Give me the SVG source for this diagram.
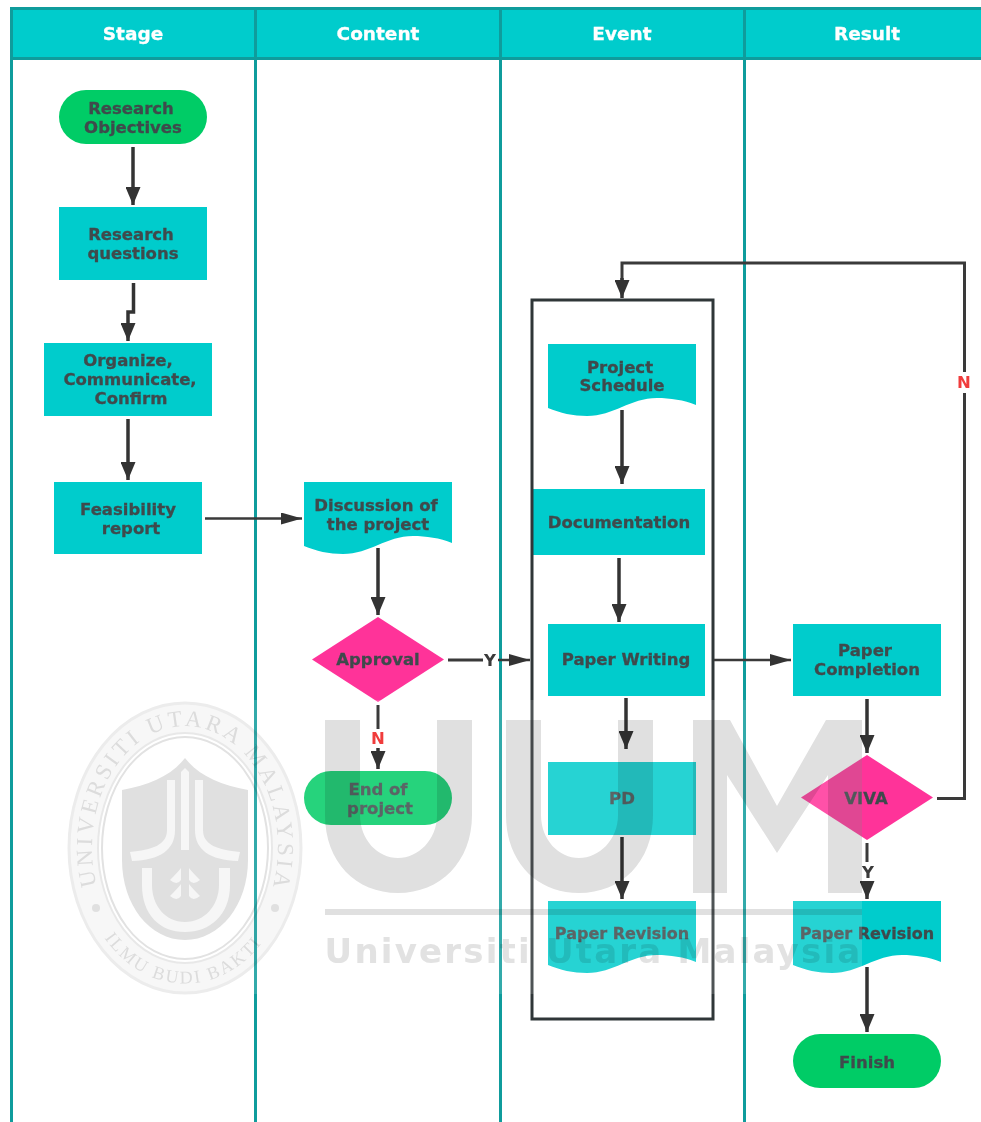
<svg xmlns="http://www.w3.org/2000/svg" width="981" height="1122" viewBox="0 0 981 1122">
<style>
text{font-family:"DejaVu Sans","Liberation Sans",sans-serif;font-weight:700;text-anchor:middle}
.h{fill:#fff;font-size:18.500px;stroke:#fff;stroke-width:.3px}
.t{fill:#3f4a4c;font-size:16.500px;stroke:#3f4a4c;stroke-width:.3px}
.box{fill:#00cccc}
.term{fill:#00cc66}
.dia{fill:#ff3399}
.lane{fill:none;stroke:#0f9c9c;stroke-width:3}
.c{fill:none;stroke:#3a3a3a;stroke-width:3}
.v{fill:none;stroke:#333;stroke-width:3.500px;marker-end:url(#a)}
.hz{fill:none;stroke:#3a3a3a;stroke-width:2.500px;marker-end:url(#b)}
.ln{font-size:16.500px;fill:#3a3a3a}
.lr{font-size:16.500px;fill:#f03c3c}
.wm{fill:#e0e0e0}
.sl{fill:none;stroke:#e2e2e2}
.st{font-family:"Liberation Serif",serif;font-weight:400;fill:#dcdcdc;font-size:23px;text-anchor:start}
#mult{mix-blend-mode:multiply}
</style>
<defs>
<marker id="a" markerUnits="userSpaceOnUse" markerWidth="18" markerHeight="15" refX="18" refY="7.500" orient="auto"><path d="M0 0L18 7.500L0 15Z" fill="#333"/></marker>
<marker id="b" markerUnits="userSpaceOnUse" markerWidth="21" markerHeight="13" refX="21" refY="6" orient="auto"><path d="M0 0L21 6L0 12Z" fill="#333"/></marker>
<path id="sealTop" d="M98 890A93 121 0 1 1 272 890"/>
<path id="sealBot" d="M101 933A108 136 0 0 0 269 933"/>
</defs>
<rect width="981" height="1122" fill="#fff"/>
<g id="swimlanes">
<rect x="11" y="8" width="970" height="50" class="box"/>
<path class="lane" d="M11.500 1122V8.500H981M11.500 58.500H981M255.500 8V1122M500.500 8V1122M744.500 8V1122"/>
<text class="h" x="133" y="40">Stage</text>
<text class="h" x="378" y="40">Content</text>
<text class="h" x="622" y="40">Event</text>
<text class="h" x="867" y="40">Result</text>
</g>
<g id="nodes">
<g id="n1"><rect class="term" x="59" y="90" width="148" height="54" rx="27"/><text class="t" x="131" y="114">Research</text><text class="t" x="133" y="133">Objectives</text></g>
<g id="n2"><rect class="box" x="59" y="207" width="148" height="73"/><text class="t" x="131" y="240">Research</text><text class="t" x="133" y="259">questions</text></g>
<g id="n3"><rect class="box" x="44" y="343" width="168" height="73"/><text class="t" x="128" y="366">Organize,</text><text class="t" x="130" y="385">Communicate,</text><text class="t" x="131" y="404">Confirm</text></g>
<g id="n4"><rect class="box" x="54" y="482" width="148" height="72"/><text class="t" x="128" y="515">Feasibility</text><text class="t" x="131" y="534">report</text></g>
<g id="n5"><path class="box" d="M304 482H452V543C440 538 426 536 413 536C386 536 370 554 343 554C329 554 316 551 304 546Z"/><text class="t" x="376" y="511">Discussion of</text><text class="t" x="378" y="530">the project</text></g>
<g id="n6"><path class="dia" d="M378 617L444 659.500L378 702L312 659.500Z"/><text class="t" x="378" y="665">Approval</text></g>
<g id="n7"><rect class="term" x="304" y="771" width="148" height="54" rx="27"/><text class="t" x="378" y="795">End of</text><text class="t" x="380" y="814">project</text></g>
<g id="n8"><path class="box" d="M548 344H696V405C684 400 670 398 657 398C630 398 614 416 587 416C573 416 560 413 548 408Z"/><text class="t" x="620" y="373">Project</text><text class="t" x="622" y="391">Schedule</text></g>
<g id="n9"><rect class="box" x="533" y="489" width="172" height="66"/><text class="t" x="619" y="528">Documentation</text></g>
<g id="n10"><rect class="box" x="548" y="624" width="157" height="72"/><text class="t" x="626" y="665">Paper Writing</text></g>
<g id="n11"><rect class="box" x="548" y="762" width="148" height="73"/><text class="t" x="622" y="804">PD</text></g>
<g id="n12"><path class="box" d="M548 901H696V962C684 957 670 955 657 955C630 955 614 973 587 973C573 973 560 970 548 965Z"/><text class="t" x="622" y="939" style="font-size:16px">Paper Revision</text></g>
<g id="n13"><rect class="box" x="793" y="624" width="148" height="72"/><text class="t" x="865" y="656">Paper</text><text class="t" x="867" y="675">Completion</text></g>
<g id="n14"><path class="dia" d="M867 755L933 797.500L867 840L801 797.500Z"/><text class="t" x="866" y="804">VIVA</text></g>
<g id="n15"><path class="box" d="M793 901H941V962C929 957 915 955 902 955C875 955 859 973 832 973C818 973 805 970 793 965Z"/><text class="t" x="867" y="939" style="font-size:16px">Paper Revision</text></g>
<g id="n16"><rect class="term" x="793" y="1034" width="148" height="54" rx="27"/><text class="t" x="867" y="1068">Finish</text></g>
<g id="n17"><rect x="532" y="300" width="181" height="719" fill="none" stroke="#2f3638" stroke-width="3"/></g>
</g>
<rect id="veil" x="68" y="700" width="794" height="294" fill="#fff" fill-opacity=".15"/>
<g id="connectors">
<path class="v" d="M133 147V205"/>
<path class="v" d="M133.500 283V312H128V341"/>
<path class="v" d="M128 419V480"/>
<path class="hz" d="M205 518.500H302"/>
<path class="v" d="M378 548V615"/>
<path class="c" d="M448 660H483"/><path class="hz" d="M498 660H530"/>
<text class="ln" x="490" y="666">Y</text>
<path class="c" d="M378 705V729"/><path class="v" d="M378 748V769"/>
<text class="lr" x="378" y="744">N</text>
<path class="v" d="M622 410V484"/>
<path class="v" d="M619 558V622"/>
<path class="hz" d="M714 660H791"/>
<path class="v" d="M626 698V749"/>
<path class="v" d="M622 837V899"/>
<path class="v" d="M867 699V753"/>
<path class="c" d="M867 843V862"/><path class="v" d="M867 882V899"/>
<text class="ln" x="868" y="878">Y</text>
<path class="v" d="M867 967V1032"/>
<path class="c" d="M937 798.500H964.500V393"/><path class="c" d="M964.500 372V263H622V280"/><path class="v" d="M622 278V298"/>
<text class="lr" x="964" y="388">N</text>
</g>
<g id="watermark">
<g id="mult">
<path class="wm" d="M325 720H360V815C360 840 378 858 398 858C418 858 437 840 437 815V720H472V815C472 862 440 893 398 893C356 893 325 862 325 815Z"/>
<path class="wm" d="M506 720H541V815C541 840 559 858 579 858C599 858 618 840 618 815V720H653V815C653 862 621 893 579 893C537 893 506 862 506 815Z"/>
<path class="wm" d="M693 893V720H730L777 806L826 720H862V893H828V775L777 853L727 775V893Z"/>
<rect class="wm" x="325" y="909" width="537" height="6"/>
<text x="593.500" y="963" style="font-size:34px;fill:#e2e2e2;letter-spacing:2.200px;font-family:'DejaVu Sans',sans-serif">Universiti Utara Malaysia</text>
<ellipse cx="185" cy="848" rx="116" ry="145" fill="#f7f7f7" stroke="#ececec" stroke-width="3"/>
<ellipse cx="185" cy="848" rx="87" ry="115" fill="#fff" stroke="#e8e8e8" stroke-width="2"/>
<ellipse class="sl" cx="185" cy="848" rx="83" ry="111" stroke-width="2"/>
<path class="wm" d="M122 790C150 785 172 775 185 758C198 775 220 785 248 790V860C248 905 220 940 185 940C150 940 122 905 122 860Z"/>
<text class="st"><textPath href="#sealTop" startOffset="5" textLength="415" lengthAdjust="spacing">UNIVERSITI UTARA MALAYSIA</textPath></text>
<text class="st" style="font-size:18px"><textPath href="#sealBot" startOffset="6" textLength="185" lengthAdjust="spacing">ILMU BUDI BAKTI</textPath></text>
<circle cx="96" cy="908" r="4" fill="#e0e0e0"/>
<circle cx="275" cy="908" r="4" fill="#e0e0e0"/>
</g>
<path d="M181 772L185 768L189 772V850H181ZM167 780H175V830C175 850 160 860 132 861L130 852C152 850 167 845 167 830ZM195 780H203V830C203 845 218 850 240 852L238 861C210 860 195 850 195 830ZM142 868H152V885C152 905 165 922 185 922C205 922 219 905 219 885V868H230V885C230 915 210 932 185 932C160 932 142 915 142 885Z" fill="#f6f6f6"/>
<path d="M170 880Q178 872 181 868V880Q177 886 170 880ZM200 880Q192 872 189 868V880Q193 886 200 880ZM170 896Q178 888 181 884V896Q177 902 170 896ZM200 896Q192 888 189 884V896Q193 902 200 896Z" fill="#f6f6f6"/>
</g>
</svg>
